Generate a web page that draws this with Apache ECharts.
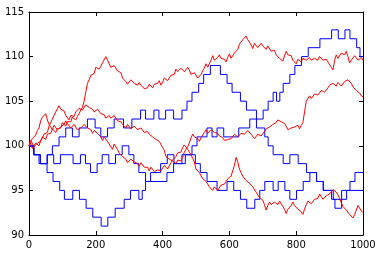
<!DOCTYPE html>
<html>
<head>
<meta charset="utf-8">
<script src="https://cdn.jsdelivr.net/npm/echarts@6/dist/echarts.min.js"></script>
<style>
  html, body { margin: 0; padding: 0; background: #fff; }
  #chart { width: 382px; height: 256px; }
</style>
</head>
<body>
<div id="chart"></div>
<script>
// red walks, one value every 5 steps
const redStep = 5;
const redTop = [100.0,100.6,100.4,99.9,99.8,100.3,100.5,100.5,101.0,101.2,
  100.7,101.3,101.4,101.4,101.9,101.9,101.5,101.9,102.1,102.0,
  102.6,102.6,102.2,102.7,102.8,102.7,103.2,103.4,102.9,103.3,
  103.6,104.0,104.3,105.0,106.0,107.0,107.4,107.9,107.9,108.1,
  108.8,108.9,108.6,108.9,109.3,109.5,110.0,109.6,109.4,108.8,
  108.7,109.0,108.8,108.4,108.3,108.2,107.6,107.4,107.2,106.9,
  107.0,107.4,107.3,107.0,106.8,106.8,107.1,106.8,106.7,106.4,
  106.6,106.5,106.9,106.7,106.5,106.9,107.0,107.0,107.3,106.8,
  107.1,107.6,107.8,107.3,107.4,107.9,108.1,108.0,108.6,108.3,
  108.2,108.7,108.8,108.3,108.3,108.8,108.5,108.0,107.9,108.2,
  108.0,107.6,107.6,108.0,108.4,108.7,109.2,108.8,109.0,109.6,
  110.1,109.6,109.5,109.9,110.2,109.8,109.6,109.7,109.4,109.9,
  110.3,109.8,109.8,110.4,110.6,110.8,111.4,111.6,111.9,111.7,
  112.3,111.9,111.6,111.3,110.9,111.5,111.4,111.0,111.1,111.5,
  111.2,111.0,110.8,111.2,111.0,110.6,110.4,110.7,110.2,110.1,
  109.8,109.9,109.5,110.1,110.6,110.2,110.0,110.1,109.6,109.4,
  109.2,109.7,109.5,109.4,109.8,109.9,109.6,109.5,109.9,109.6,
  109.5,109.8,109.8,109.6,110.0,109.9,109.6,109.4,109.7,109.4,
  109.2,108.8,108.5,109.6,110.2,109.8,110.0,110.4,110.3,110.2,
  110.6,110.0,109.3,109.6,109.7,110.1,110.0,109.6,109.8,109.9,
  109.6];
const redMid = [100.0,100.3,99.7,99.9,100.3,100.5,100.0,100.6,100.9,101.3,
  101.4,101.5,102.2,102.3,103.0,103.1,103.8,104.0,104.5,104.1,
  103.9,103.9,103.4,103.3,102.9,103.4,103.3,103.3,103.8,103.8,
  104.2,104.4,104.0,104.3,104.6,104.6,104.3,104.5,104.1,103.8,
  103.7,104.1,104.0,103.6,103.5,103.5,103.1,103.0,103.4,103.1,
  103.0,103.4,103.2,102.8,102.6,102.7,102.4,102.4,102.0,102.4,
  102.3,101.9,101.8,102.2,102.1,101.8,101.7,102.0,101.9,101.5,
  101.5,101.6,101.3,101.3,101.0,101.1,100.7,100.9,100.5,100.3,
  99.8,99.5,98.8,98.9,98.5,98.7,98.3,98.4,98.0,98.4,
  98.5,98.3,98.7,99.3,99.6,99.9,100.3,100.9,101.3,101.0,
  101.0,100.8,100.5,100.9,101.1,101.5,101.8,101.4,101.4,101.8,
  101.9,101.5,101.5,101.4,101.1,101.2,100.9,100.6,100.6,100.7,
  100.5,100.8,100.9,101.3,101.4,101.0,101.0,101.4,101.6,101.3,
  101.3,101.7,101.6,101.3,101.2,100.8,100.9,101.3,101.4,101.1,
  101.2,101.6,101.9,101.8,102.1,102.3,102.4,102.3,102.6,102.9,
  103.1,102.7,102.5,102.5,102.2,101.8,101.7,102.0,101.8,102.1,
  102.2,102.3,101.9,102.3,102.6,103.8,105.0,105.1,105.6,105.3,
  105.4,105.8,106.0,105.7,105.8,106.2,106.3,106.0,106.1,106.5,
  106.8,106.6,107.0,106.9,106.7,107.1,107.0,106.7,106.8,107.2,
  107.1,107.4,107.6,107.0,106.6,106.5,106.2,106.3,105.9,105.6,
  105.5];
const redLow = [100.0,100.5,100.8,100.6,101.2,101.7,102.0,102.8,103.2,103.0,
  103.6,102.9,102.4,102.3,101.8,102.3,102.2,101.8,101.7,102.1,
  102.3,102.4,102.8,102.5,102.4,102.0,101.9,102.4,102.3,101.8,
  101.6,102.0,102.0,102.4,102.5,102.0,101.9,101.8,101.4,101.7,
  101.8,101.4,101.5,101.0,100.6,101.0,101.0,100.5,100.2,100.0,
  99.6,100.2,100.1,99.6,99.2,99.2,98.8,98.9,98.5,98.1,
  98.0,98.5,98.6,98.2,98.3,98.0,97.7,98.1,98.0,97.6,
  97.5,97.6,97.2,97.6,97.5,97.1,96.9,97.3,97.1,97.2,
  97.4,97.8,97.8,97.4,97.6,98.1,98.4,98.3,98.8,99.2,
  99.4,99.3,99.8,100.1,100.0,99.6,99.3,99.0,98.6,98.2,
  97.4,97.4,97.0,96.9,96.3,96.3,96.0,95.7,95.4,95.4,
  95.0,95.4,95.3,95.0,95.2,95.6,95.6,95.7,96.0,96.3,
  96.4,96.6,97.2,97.8,98.7,98.2,97.4,97.3,96.6,96.5,
  96.1,96.2,95.8,95.7,95.4,95.2,94.8,94.6,94.2,94.3,
  93.9,93.4,92.8,93.3,93.7,93.4,93.3,93.7,93.6,93.4,
  93.8,93.6,93.2,92.9,92.4,92.9,93.1,93.3,93.7,93.3,
  93.2,92.9,92.7,92.6,92.3,92.9,93.4,93.8,93.9,93.5,
  93.6,94.0,94.2,94.1,94.6,94.3,94.0,94.2,94.4,94.3,
  94.6,94.8,95.1,95.0,94.8,94.5,94.1,93.6,93.2,93.1,
  92.8,92.6,92.3,92.2,91.9,92.3,92.8,93.3,93.2,92.7,
  92.5];

// blue step walks: x where each level starts, and the level
const blueAX = [0,15,30,55,70,90,110,130,150,175,198,215,235,255,283,308,334,349,374,389,
  409,433,458,473,488,508,523,543,573,593,608,633,651,681,701,716,731,741,751,761,
  781,796,816,836,871,906,926,946,961,981,991,1000];
const blueAY = [100,99,98,99,100,101,102,101,102,103,102,101,102,103,102,103,104,103,104,103,
  104,103,104,105,106,107,108,109,108,107,106,105,104,103,104,105,106,105,106,107,
  108,109,110,111,112,113,112,113,112,111,110,110];
const blueBX = [0,14,34,54,74,94,132,154,169,184,204,219,239,259,279,299,314,329,349,413,
  433,458,498,513,533,563,593,613,633,652,676,691,706,731,746,766,781,801,821,841,
  861,881,911,936,1000];
const blueBY = [100,99,98,99,98,99,98,99,98,97,98,99,98,99,100,99,98,97,96,97,
  98,99,98,97,96,95,96,95,94,93,94,95,96,95,96,95,94,95,96,97,
  96,95,94,95,95];
const blueCX = [0,14,34,54,72,92,106,131,151,171,191,216,236,258,285,304,329,339,349,364,
  394,414,434,468,488,503,533,548,563,583,628,661,681,706,716,731,761,781,806,831,
  861,881,906,916,936,951,961,976,1000];
const blueCY = [100,99,98,97,96,95,94,95,94,93,92,91,92,93,94,95,94,95,96,97,
  98,99,98,99,100,101,102,101,102,101,102,103,102,101,100,99,98,99,98,97,
  96,95,94,93,94,95,96,97,97];

const xTicks = [0, 200, 400, 600, 800, 1000];
const yTicks = [90, 95, 100, 105, 110, 115];

function redSeries(vals) {
  return {
    type: 'line',
    data: vals.map((v, i) => [i * redStep, v]),
    showSymbol: false,
    lineStyle: { color: '#ff0000', width: 1 },
    itemStyle: { color: '#ff0000' },
    silent: true
  };
}
function blueSeries(xs, ys) {
  return {
    type: 'line',
    step: 'end',
    data: xs.map((x, i) => [x, ys[i]]),
    showSymbol: false,
    lineStyle: { color: '#0000ff', width: 1 },
    itemStyle: { color: '#0000ff' },
    silent: true
  };
}

function axis(pos, isX, showLabel) {
  const ticks = isX ? xTicks : yTicks;
  return {
    type: 'value',
    position: pos,
    min: ticks[0],
    max: ticks[ticks.length - 1],
    interval: ticks[1] - ticks[0],
    axisLine: { show: true, onZero: false, lineStyle: { color: '#000', width: 1 } },
    axisTick: { show: true, inside: true, length: 4, lineStyle: { color: '#000', width: 1 } },
    axisLabel: {
      show: showLabel, color: '#000', fontSize: 10, fontFamily: 'DejaVu Sans',
      margin: 5, showMinLabel: true, showMaxLabel: true,
      formatter: v => String(v)
    },
    splitLine: { show: false }
  };
}

const chart = echarts.init(document.getElementById('chart'), null, { renderer: 'canvas' });
chart.setOption({
  animation: false,
  backgroundColor: '#fff',
  grid: { left: 29, right: 19, top: 12, bottom: 21 },
  xAxis: [axis('bottom', true, true), axis('top', true, false)],
  yAxis: [axis('left', false, true), axis('right', false, false)],
  series: [
    blueSeries(blueAX, blueAY),
    blueSeries(blueBX, blueBY),
    blueSeries(blueCX, blueCY),
    redSeries(redTop),
    redSeries(redMid),
    redSeries(redLow)
  ]
});
</script>
</body>
</html>
